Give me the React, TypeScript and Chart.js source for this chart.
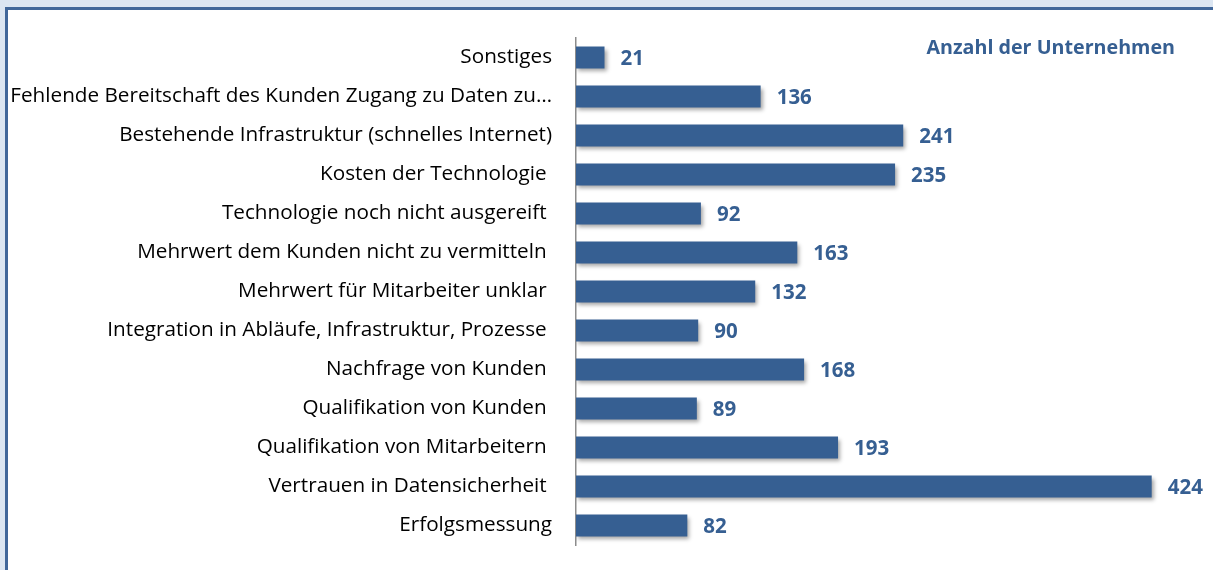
import React, { useEffect, useRef } from "react";
import { Chart, registerables } from "chart.js";

Chart.register(...registerables);

const categories = [
  "Sonstiges",
  "Fehlende Bereitschaft des Kunden Zugang zu Daten zu…",
  "Bestehende Infrastruktur (schnelles Internet)",
  "Kosten der Technologie ",
  "Technologie noch nicht ausgereift ",
  "Mehrwert dem Kunden nicht zu vermitteln ",
  "Mehrwert für Mitarbeiter unklar ",
  "Integration in Abläufe, Infrastruktur, Prozesse ",
  "Nachfrage von Kunden ",
  "Qualifikation von Kunden ",
  "Qualifikation von Mitarbeitern ",
  "Vertrauen in Datensicherheit ",
  "Erfolgsmessung",
];

const counts = [21, 136, 241, 235, 92, 163, 132, 90, 168, 89, 193, 424, 82];

const seriesLabel = "Anzahl der Unternehmen";

const BAR_COLOR = "#365F92";
const TEXT_BLUE = "#365F92";
const FONT = "'Open Sans', Lato, sans-serif";

export default function App() {
  const canvasRef = useRef<HTMLCanvasElement | null>(null);

  useEffect(() => {
    document.body.style.margin = "0";
    document.body.style.background = "#DCE6F2";
    document.body.style.overflow = "hidden";
    const canvas = canvasRef.current;
    if (!canvas) return;

    const shadowPlugin = {
      id: "barShadow",
      beforeDatasetsDraw(chart: any) {
        const ctx = chart.ctx;
        ctx.save();
        ctx.shadowColor = "rgba(0,0,0,0.35)";
        ctx.shadowBlur = 4;
        ctx.shadowOffsetX = 2;
        ctx.shadowOffsetY = 3;
      },
      afterDatasetsDraw(chart: any) {
        chart.ctx.restore();
      },
    };

    const labelPlugin = {
      id: "valueLabels",
      afterDraw(chart: any) {
        const ctx = chart.ctx;
        const meta = chart.getDatasetMeta(0);
        ctx.save();
        ctx.fillStyle = TEXT_BLUE;
        ctx.font = `bold 20.5px ${FONT}`;
        ctx.textAlign = "left";
        ctx.textBaseline = "middle";
        meta.data.forEach((bar: any, i: number) => {
          ctx.fillText(String(counts[i]), bar.x + 16, bar.y + 2);
        });
        ctx.font = `bold 19.7px ${FONT}`;
        ctx.textAlign = "right";
        ctx.fillText(seriesLabel, chart.chartArea.right - 12, 38);
        ctx.restore();
      },
    };

    const chart = new Chart(canvas, {
      type: "bar",
      data: {
        labels: categories,
        datasets: [
          {
            label: seriesLabel,
            data: counts,
            backgroundColor: BAR_COLOR,
            borderWidth: 0,
            barPercentage: 0.564,
            categoryPercentage: 1,
          },
        ],
      },
      options: {
        indexAxis: "y",
        animation: false,
        responsive: true,
        maintainAspectRatio: false,
        layout: { padding: { top: 28, bottom: 25, left: 0, right: 26 } },
        plugins: {
          legend: { display: false },
          tooltip: { enabled: false },
          title: { display: false },
        },
        scales: {
          x: {
            display: false,
            min: 0,
            max: 450,
          },
          y: {
            afterFit(scale: any) {
              scale.width = 568;
              scale.paddingTop = 0;
              scale.paddingBottom = 0;
            },
            grid: { display: false },
            border: { display: true, color: "#8C8C8C", width: 1.5 },
            ticks: {
              color: "#000000",
              padding: 16,
              font: { family: FONT, size: 20.7 },
              autoSkip: false,
            },
          },
        },
      },
      plugins: [shadowPlugin, labelPlugin],
    });

    return () => chart.destroy();
  }, []);

  return (
    <div
      style={{
        position: "absolute",
        left: 5,
        top: 7,
        width: 1230,
        height: 600,
        background: "#FFFFFF",
        border: "3px solid #41679A",
        boxSizing: "border-box",
      }}
    >
      <div
        style={{
          position: "absolute",
          left: 0,
          top: 0,
          width: 1205,
          height: 560,
        }}
      >
        <canvas ref={canvasRef} />
      </div>
    </div>
  );
}
